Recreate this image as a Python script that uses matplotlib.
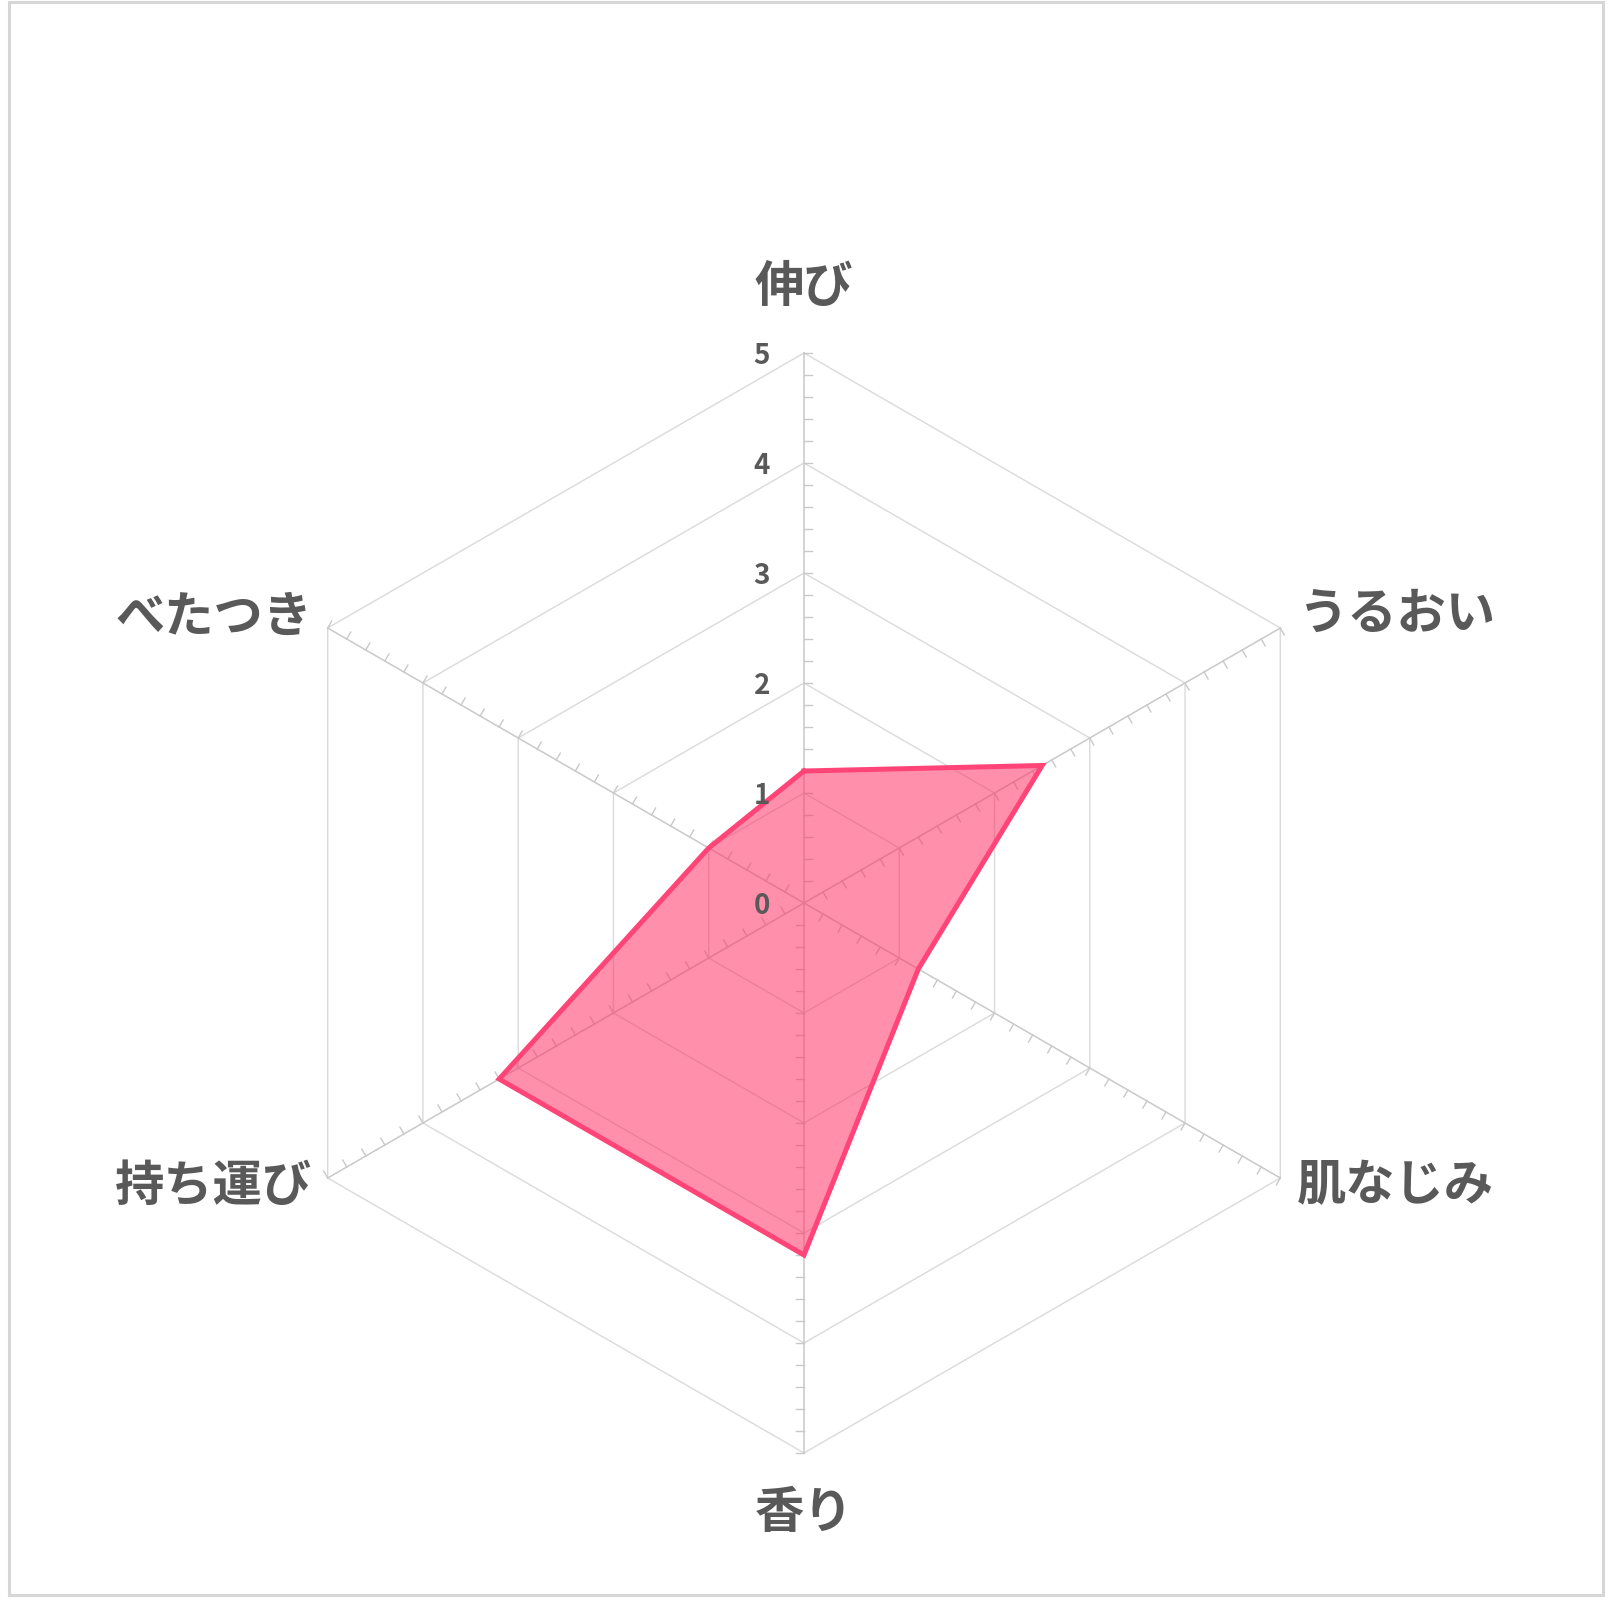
#!/usr/bin/env python3

import numpy as np
import matplotlib
matplotlib.use('Agg')
import matplotlib.pyplot as plt
from matplotlib.patches import Rectangle

plt.rcParams['font.family'] = ['Noto Sans CJK JP', 'DejaVu Sans']

# axes, clockwise from the top
labels = ['伸び', 'うるおい', '肌なじみ', '香り', '持ち運び', 'べたつき']
values = [1.2, 2.5, 1.2, 3.2, 3.2, 1.0]
rings = [1, 2, 3, 4, 5]
tick_labels = ['0', '1', '2', '3', '4', '5']

W, H, DPI = 1612, 1613, 100
cx, cy = 804, 903      # centre in pixels from top-left
unit = 110.0           # pixels per value step

line_col = '#ff4578'
fill_col = '#ff3366'
grid_col = '#dadada'
spoke_col = '#c9c9c9'
text_col = '#595959'

angles = np.deg2rad(90 - 60 * np.arange(len(labels)))
dirs = np.column_stack([np.cos(angles), np.sin(angles)])

fig = plt.figure(figsize=(W / DPI, H / DPI), dpi=DPI)
ax = fig.add_axes([0, 0, 1, 1])
ax.set_xlim(-cx / unit, (W - cx) / unit)
ax.set_ylim(-(H - cy) / unit, cy / unit)
ax.axis('off')

# outer frame
fig.patches.append(Rectangle((8.5 / W, 1 - 1595 / H), (1602.5 - 8.5) / W, (1595 - 1.5) / H,
                             transform=fig.transFigure, fill=False,
                             edgecolor='#d6d6d6', linewidth=2.2))

# hexagon rings
for r in rings:
    pts = np.vstack([dirs, dirs[:1]]) * r
    ax.plot(pts[:, 0], pts[:, 1], color=grid_col, lw=1.0, zorder=1)

# spokes and minor ticks
tick_len = 8 / unit
for d in dirs:
    ax.plot([0, d[0] * 5], [0, d[1] * 5], color=spoke_col, lw=1.1, zorder=1)
    perp = np.array([d[1], -d[0]])   # clockwise side
    for t in np.arange(1, 26) * 0.2:
        p = d * t
        q = p + perp * tick_len
        ax.plot([p[0], q[0]], [p[1], q[1]], color=spoke_col, lw=1.0, zorder=1)

# data polygon
v = np.array(values)
pts = dirs * v[:, None]
ax.fill(pts[:, 0], pts[:, 1], color=fill_col, alpha=0.55, lw=0, zorder=2)
closed = np.vstack([pts, pts[:1]])
ax.plot(closed[:, 0], closed[:, 1], color=line_col, lw=3.6, zorder=3,
        solid_joinstyle='miter')

# value labels on the vertical axis
for i, s in enumerate(tick_labels):
    ax.text(-34 / unit, i - 0.03, s, ha='right', va='center', fontsize=20,
            fontweight='bold', color=text_col, zorder=4)

# category labels
lab_pos = [
    (0, 5.6, 'center', 'center'),
    (4.5, 2.62, 'left', 'center'),
    (4.48, -2.57, 'left', 'center'),
    (0, -5.55, 'center', 'center'),
    (-4.47, -2.57, 'right', 'center'),
    (-4.47, 2.6, 'right', 'center'),
]
for lab, (x, y, ha, va) in zip(labels, lab_pos):
    ax.text(x, y, lab, ha=ha, va=va, fontsize=35.5, fontweight='bold', color=text_col)

fig.savefig('out.png', dpi=DPI)
